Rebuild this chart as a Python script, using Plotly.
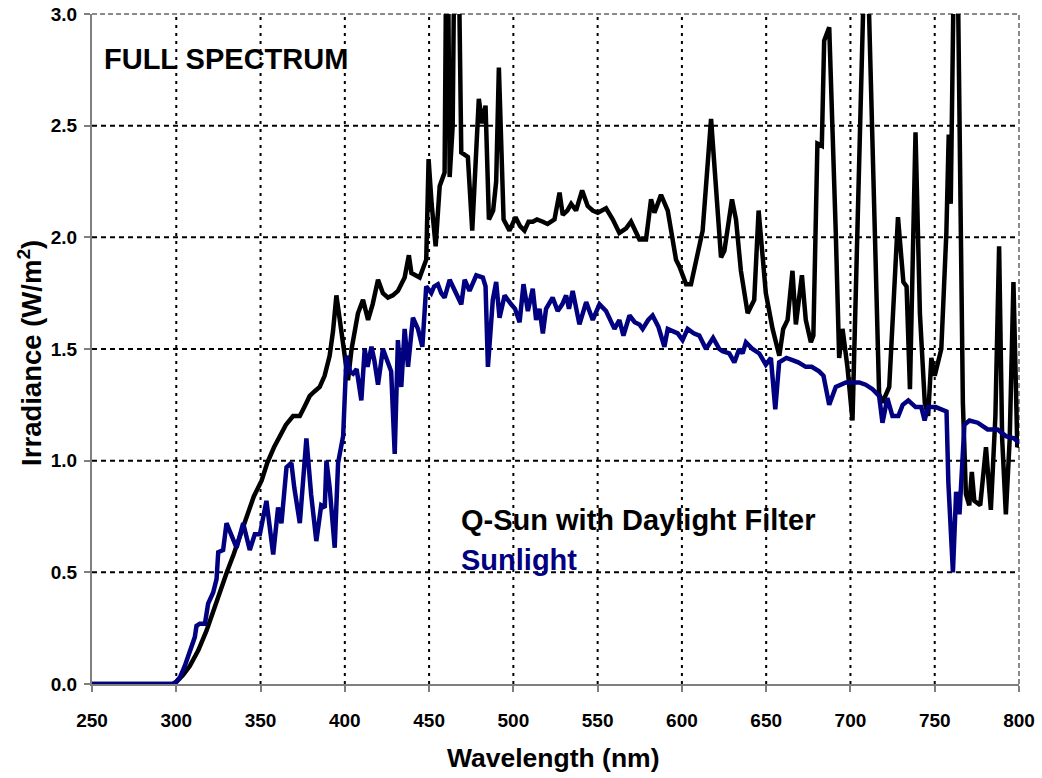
import plotly.graph_objects as go

# ---------------- data ----------------
qsun_wl = [250, 290, 298, 300.2, 304, 308, 313, 318, 322, 326, 330, 334, 338, 342, 346, 350.6, 354, 358,
           361.4, 365, 369.3, 373.3, 376, 379.2, 382, 385.1, 388, 391, 393, 395, 398.5, 401.9, 404, 405.9,
           407.8, 410.8, 413.8, 416.5, 419.7, 422.6, 425.6, 428.5, 431.5, 435.5, 438, 439.5, 444.4, 448.3,
           449.7, 451.5, 453.9, 456.3, 459.2, 460.2, 461.2, 462.2, 464, 465, 467.5, 469.1, 473, 475.6,
           477.5, 479.5, 481.5, 483.5, 485.5, 488, 489.8, 491.4, 494.2, 497.7, 501.3, 504, 506.6, 509,
           511.5, 514, 517.5, 520.3, 524.4, 527.4, 529.3, 532, 534.3, 537.2, 540.8, 544.1, 547.1, 550.1,
           555, 559, 562.9, 566.9, 569.8, 574.8, 578.7, 581.7, 583.7, 587.6, 591.6, 596.5, 598.5, 602.5,
           605.4, 608.5, 612.3, 617.3, 623.2, 625.2, 629.7, 632.1, 635, 639, 642.9, 645.5, 647.5, 649.8,
           653.8, 657.8, 660.1, 662.7, 665.6, 667.6, 671.2, 673.5, 676.5, 678, 680.4, 683, 684.4, 687.4,
           691.3, 693.3, 695.3, 698.2, 701.2, 708.5, 710, 717, 719, 723, 728.2, 731.4, 733.3, 735.3,
           738.6, 741.2, 744.1, 746.1, 748, 750, 753.9, 756.9, 758.3, 759.5, 761.5, 763.5, 766.7, 768.5,
           770.5, 772, 773.5, 777, 780.4, 783.3, 786, 788.2, 790, 792.2, 794.5, 796.7, 799, 800]
qsun_irr = [0, 0, 0, 0.01, 0.04, 0.08, 0.15, 0.24, 0.33, 0.42, 0.50, 0.58, 0.67, 0.75, 0.84, 0.91, 0.99, 1.06,
            1.11, 1.16, 1.20, 1.20, 1.24, 1.29, 1.31, 1.33, 1.38, 1.47, 1.58, 1.74, 1.55, 1.36, 1.50, 1.57,
            1.66, 1.72, 1.63, 1.70, 1.81, 1.75, 1.73, 1.74, 1.76, 1.82, 1.92, 1.84, 1.82, 1.90,
            2.35, 2.15, 1.96, 2.23, 2.29, 3.3, 3.3, 2.27, 2.50, 3.3, 3.3, 2.38, 2.36, 2.03,
            2.30, 2.62, 2.51, 2.59, 2.08, 2.12, 2.25, 2.76, 2.08, 2.03, 2.09, 2.05, 2.03, 2.07,
            2.07, 2.08, 2.07, 2.06, 2.08, 2.20, 2.10, 2.12, 2.15, 2.12, 2.21, 2.14, 2.12, 2.11,
            2.13, 2.08, 2.02, 2.04, 2.07, 1.99, 1.99, 2.17, 2.11, 2.19, 2.12, 1.90, 1.87, 1.79,
            1.79, 1.90, 2.03, 2.53, 1.91, 1.94, 2.17, 2.08, 1.85, 1.66, 1.72, 2.12, 1.95, 1.75,
            1.59, 1.47, 1.59, 1.63, 1.85, 1.61, 1.83, 1.63, 1.53, 1.56, 2.42, 2.41, 2.88, 2.94,
            2.02, 1.46, 1.59, 1.42, 1.18, 3.3, 3.3, 1.30, 1.26, 1.33, 2.09, 1.80, 1.78, 1.32,
            2.47, 1.66, 1.26, 1.20, 1.46, 1.38, 1.50, 2.02, 2.46, 2.15, 3.3, 3.3, 1.26, 0.85,
            0.80, 0.95, 0.82, 0.80, 1.06, 0.78, 1.20, 1.96, 1.10, 0.76, 1.10, 1.80, 1.06, 1.08]

sun_wl = [250, 290, 298, 300, 302.2, 305, 308.1, 311, 312, 314, 317, 318.9, 321.9, 323.9, 324.9, 327.8, 329.8,
          332.8, 335.8, 339.7, 343.6, 346.6, 349.6, 353.5, 357.5, 360.4, 362.4, 365.4, 368.3, 370, 373.3,
          377.2, 380, 383.1, 386, 388.1, 389.1, 391, 394, 396, 399, 401, 403, 404.9, 407, 409.8, 411.8,
          413.5, 415.8, 417.5, 419.7, 422.6, 425.6, 427.5, 429.6, 431.5, 433.5, 435.5, 437.5, 440.4, 443.4,
          446, 448.3, 451.3, 453, 455.2, 457.2, 459.2, 462.2, 465.1, 469.1, 471.1, 474, 478, 481.9, 483.5,
          484.9, 487.8, 489.8, 491.8, 494.8, 498.7, 501, 503.7, 506, 508.6, 511.5, 513.5, 515.5, 517.5,
          519.4, 523.3, 526.3, 529, 531.3, 533, 535.2, 539.2, 543.2, 547.1, 551.1, 555, 560, 562.9, 565.3,
          568.9, 572, 574.8, 576.7, 580, 582.6, 586, 589.6, 591.6, 594, 597.5, 600.4, 603.4, 607, 610.3,
          614.3, 618.5, 622.2, 624.1, 628.1, 631.1, 634, 636, 638, 641.9, 645.9, 649.8, 652.8, 655.4,
          657.7, 662, 665.6, 669, 673.5, 677, 681.4, 684, 687.4, 691.3, 697.3, 702, 705.2, 709, 713.1,
          717, 719, 721.9, 724.9, 728.4, 731, 734.3, 738.7, 742, 744, 746, 750.6, 753.9, 757, 758.1,
          760.8, 762.7, 764.7, 767.6, 770.6, 775.5, 781.4, 787.3, 792.2, 797, 800]
sun_irr = [0, 0, 0, 0.01, 0.03, 0.08, 0.14, 0.21, 0.26, 0.27, 0.27, 0.36, 0.41, 0.47, 0.59, 0.60, 0.72,
           0.66, 0.61, 0.72, 0.60, 0.67, 0.67, 0.82, 0.58, 0.79, 0.72, 0.97, 0.99, 0.88, 0.72,
           1.10, 0.85, 0.64, 0.80, 0.79, 1.00, 0.88, 0.61, 0.99, 1.11, 1.47, 1.40, 1.39, 1.41, 1.27, 1.50,
           1.42, 1.51, 1.45, 1.34, 1.50, 1.44, 1.40, 1.03, 1.54, 1.33, 1.59, 1.42, 1.64, 1.59,
           1.51, 1.78, 1.75, 1.78, 1.79, 1.75, 1.73, 1.81, 1.76, 1.70, 1.81, 1.76, 1.83, 1.82, 1.78,
           1.42, 1.72, 1.80, 1.64, 1.74, 1.70, 1.68, 1.62, 1.79, 1.67, 1.77, 1.63, 1.68, 1.57,
           1.68, 1.73, 1.67, 1.70, 1.74, 1.68, 1.76, 1.61, 1.71, 1.63, 1.70, 1.67, 1.59, 1.63, 1.56,
           1.65, 1.62, 1.61, 1.59, 1.63, 1.65, 1.60, 1.51, 1.59, 1.58, 1.57, 1.54, 1.59, 1.57, 1.56,
           1.50, 1.55, 1.50, 1.49, 1.48, 1.44, 1.50, 1.48, 1.53, 1.50, 1.48, 1.43, 1.46, 1.23,
           1.44, 1.46, 1.45, 1.44, 1.42, 1.42, 1.40, 1.38, 1.25, 1.33, 1.35, 1.35, 1.35, 1.34, 1.32,
           1.29, 1.17, 1.28, 1.20, 1.20, 1.25, 1.27, 1.24, 1.24, 1.18, 1.24, 1.24, 1.23, 1.22, 0.90,
           0.50, 0.86, 0.76, 1.16, 1.18, 1.17, 1.14, 1.14, 1.11, 1.10, 1.08]

x_ticks = [250, 300, 350, 400, 450, 500, 550, 600, 650, 700, 750, 800]
y_ticks = [0.0, 0.5, 1.0, 1.5, 2.0, 2.5, 3.0]
x_grid = x_ticks[1:-1]
y_grid = y_ticks[1:-1]

FONT = "Liberation Sans, Arial, Helvetica, sans-serif"
NAVY = "#000080"

fig = go.Figure()
fig.add_trace(go.Scatter(x=qsun_wl, y=qsun_irr, mode="lines",
                         line=dict(color="black", width=4.5), name="Q-Sun with Daylight Filter",
                         cliponaxis=True))
fig.add_trace(go.Scatter(x=sun_wl, y=sun_irr, mode="lines",
                         line=dict(color=NAVY, width=4.5), name="Sunlight", cliponaxis=True))

shapes = []
for g in x_grid:
    shapes.append(dict(type="line", xref="x", yref="y", x0=g, x1=g, y0=0, y1=3, layer="below",
                       line=dict(color="black", width=2, dash="3px,5px")))
for g in y_grid:
    shapes.append(dict(type="line", xref="x", yref="y", x0=250, x1=800, y0=g, y1=g, layer="below",
                       line=dict(color="black", width=2, dash="5px,4px")))
# top / right frame (gray dashed)
shapes.append(dict(type="line", xref="paper", yref="paper", x0=0, x1=1, y0=1, y1=1, layer="below",
                   line=dict(color="#8a8a8a", width=2, dash="5px,3px")))
shapes.append(dict(type="line", xref="paper", yref="paper", x0=1, x1=1, y0=0, y1=1, layer="below",
                   line=dict(color="#8a8a8a", width=2, dash="5px,3px")))
# white boxes behind texts (hide gridlines)
shapes.append(dict(type="rect", xref="paper", yref="paper", x0=0.004, x1=0.285, y0=0.876, y1=0.967,
                   layer="below", line=dict(width=0), fillcolor="white"))
shapes.append(dict(type="rect", xref="paper", yref="paper", x0=0.389, x1=0.874, y0=0.148, y1=0.279,
                   layer="below", line=dict(width=0), fillcolor="white"))

annotations = [
    dict(text="<b>FULL SPECTRUM</b>", xref="paper", yref="paper", x=0.011, y=0.933,
         xanchor="left", yanchor="middle", showarrow=False, font=dict(family=FONT, size=29, color="black")),
    dict(text="<b>Q-Sun with Daylight Filter</b>", xref="paper", yref="paper", x=0.396, y=0.245,
         xanchor="left", yanchor="middle", showarrow=False, font=dict(family=FONT, size=29, color="black")),
    dict(text="<b>Sunlight</b>", xref="paper", yref="paper", x=0.396, y=0.185,
         xanchor="left", yanchor="middle", showarrow=False, font=dict(family=FONT, size=29, color=NAVY)),
    dict(text="<b>Wavelength (nm)</b>", xref="paper", yref="paper", x=0.498, y=-0.110,
         xanchor="center", yanchor="middle", showarrow=False, font=dict(family=FONT, size=26.5, color="black")),
    dict(text="<b>Irradiance (W/m<sup>2</sup>)</b>", xref="paper", yref="paper", x=-0.067, y=0.494,
         xanchor="center", yanchor="middle", textangle=-90, showarrow=False,
         font=dict(family=FONT, size=27.5, color="black")),
]

fig.update_layout(
    width=1042, height=778,
    margin=dict(l=92, r=23, t=14, b=94, autoexpand=False),
    paper_bgcolor="white", plot_bgcolor="white",
    showlegend=False,
    shapes=shapes, annotations=annotations,
    font=dict(family=FONT, color="black"),
)
fig.update_xaxes(range=[250, 800], tickvals=x_ticks, ticktext=[str(v) for v in x_ticks],
                 showgrid=False, zeroline=False, showline=True, linecolor="#7f7f7f", linewidth=2,
                 ticks="outside", ticklen=6, tickwidth=2, tickcolor="#7f7f7f", automargin=False,
                 tickfont=dict(family=FONT, size=19, color="black", weight="bold"),
                 ticklabelstandoff=12)
fig.update_yaxes(range=[0, 3], tickvals=y_ticks, ticktext=[f"{v:.1f}" for v in y_ticks],
                 showgrid=False, zeroline=False, showline=True, linecolor="#7f7f7f", linewidth=2,
                 ticks="outside", ticklen=6, tickwidth=2, tickcolor="#7f7f7f", automargin=False,
                 tickfont=dict(family=FONT, size=19, color="black", weight="bold"),
                 ticklabelstandoff=3)

fig.write_html("out.html")
